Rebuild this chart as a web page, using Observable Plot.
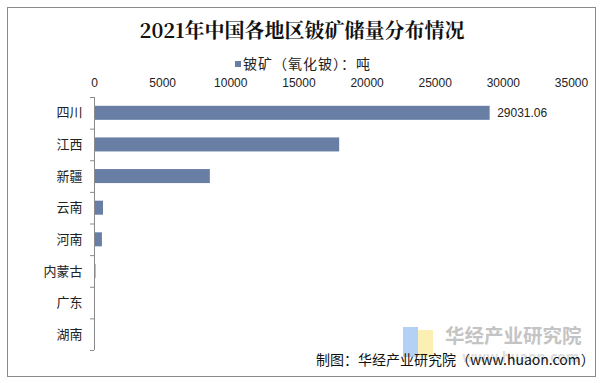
<!DOCTYPE html>
<html><head><meta charset="utf-8">
<script src="https://cdn.jsdelivr.net/npm/d3@7"></script>
<script src="https://cdn.jsdelivr.net/npm/@observablehq/plot@0.6"></script>
<style>
html,body{margin:0;padding:0;background:#fff;}
#wrap{position:relative;width:604px;height:383px;overflow:hidden;font-family:"Noto Sans CJK SC",sans-serif;}
#border{position:absolute;left:7px;top:7px;width:589px;height:370px;border:1px solid #8a8a8a;box-sizing:border-box;}
#title{position:absolute;left:0;width:604px;top:16px;line-height:28px;text-align:center;font-size:20px;font-weight:bold;color:#111;font-family:"Noto Serif CJK SC","Noto Sans CJK SC",serif;}
#legend{position:absolute;left:235px;top:53px;line-height:20px;font-size:14px;color:#222;white-space:nowrap;letter-spacing:1px;}
#legend span.sw{display:inline-block;width:6px;height:6px;background:#687EA4;margin-right:2px;vertical-align:2px;}
#caption{position:absolute;left:316px;top:349px;line-height:20px;font-size:14px;color:#111;white-space:nowrap;}
#wm{position:absolute;left:445px;top:322px;line-height:26px;font-size:19.5px;font-weight:bold;color:#c4c4c4;white-space:nowrap;}
#wm2{position:absolute;left:462px;top:347px;line-height:18px;font-size:14px;font-weight:bold;color:#dedede;white-space:nowrap;}
#logo1{position:absolute;left:403px;top:327px;width:15px;height:30px;background:#b3d0f5;}
#logo2{position:absolute;left:418px;top:330px;width:15px;height:27px;background:#fcefb4;}
svg{position:absolute;left:0;top:0;}
</style></head>
<body>
<div id="wrap">
  <div id="logo1"></div><div id="logo2"></div>
  <div id="wm">华经产业研究院</div>
  <div id="wm2">www.huaon.com</div>
  <div id="border"></div>
  <div id="title">2021年中国各地区铍矿储量分布情况</div>
  <div id="legend"><span class="sw"></span>铍矿（氧化铍）：吨</div>
  <div id="caption">制图：华经产业研究院（www.huaon.com）</div>
</div>
<script>
const regions = ["四川","江西","新疆","云南","河南","内蒙古","广东","湖南"];
const values = [29031.06, 17990, 8500, 660, 580, 110, 5, 2];
const xTicks = [0,5000,10000,15000,20000,25000,30000,35000];
const valueLabels = ["29031.06","","","","","","",""];
const boundaries = [0,1,2,3,4,5,6,7,8];

const data = regions.map((r,i)=>({region:r, value:values[i], i, label:valueLabels[i]}));

const chart = Plot.plot({
  width: 604,
  height: 383,
  marginLeft: 94,
  marginRight: 33,
  marginTop: 97,
  marginBottom: 33,
  style: {background:"transparent", fontFamily:"Liberation Sans, Arial, sans-serif"},
  x: {domain:[0,35000]},
  y: {domain:[0,8], reverse:true},
  marks: [
    Plot.axisX({anchor:"top", ticks:xTicks, tickSize:0, tickPadding:11, tickFormat:d=>String(d), fontSize:12, fill:"#222", label:null}),
    Plot.axisY({ticks:boundaries, tickSize:4, tickFormat:()=>"", stroke:"#8a8a8a", label:null}),
    Plot.rectX(data, {x1:0, x2:"value", y1:"i", y2:d=>d.i+1, insetTop:8.8, insetBottom:8.8, fill:"#687EA4"}),
    Plot.ruleX([0], {stroke:"#8a8a8a"}),
    Plot.text(data, {y:d=>d.i+0.5, frameAnchor:"left", dx:-12, textAnchor:"end", text:"region", fontSize:13, fill:"#222", fontFamily:"Noto Sans CJK SC"}),
    Plot.text(data.filter(d=>d.label), {x:"value", y:d=>d.i+0.5, text:"label", dx:7, textAnchor:"start", fontSize:12, fill:"#222"})
  ]
});
document.getElementById("wrap").appendChild(chart);
</script>
</body></html>
